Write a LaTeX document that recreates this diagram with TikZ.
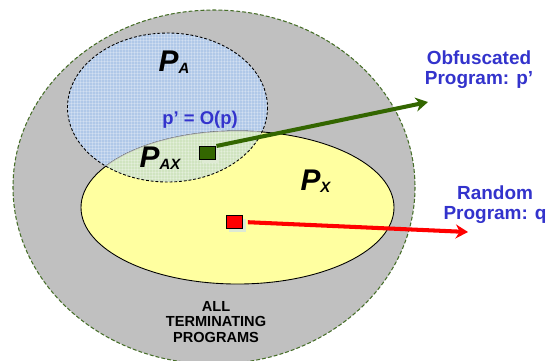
\documentclass[tikz,border=0pt]{standalone}
\usepackage{fontspec}
\setmainfont{Liberation Sans}
\usetikzlibrary{arrows.meta,shadows,patterns.meta}
\definecolor{allgray}{RGB}{192,192,192}
\definecolor{setblue}{RGB}{176,200,232}
\definecolor{setyellow}{RGB}{255,255,160}
\definecolor{overlapgreen}{RGB}{208,228,192}
\definecolor{labelblue}{RGB}{51,51,204}
\definecolor{progrn}{RGB}{51,102,0}
\definecolor{edgegreen}{RGB}{70,110,40}
\definecolor{paleshadow}{RGB}{222,234,212}
\begin{document}
\begin{tikzpicture}[x=0.02cm, y=-0.02cm, >=Stealth,
    setlabel/.style={font=\fontsize{17}{17}\selectfont\bfseries\itshape, inner sep=0pt},
    bluetext/.style={text=labelblue, font=\fontsize{10.8}{11.5}\selectfont\bfseries, align=center},
    prog/.style={draw=black, line width=0.6pt, minimum width=9.6pt, minimum height=7.4pt, inner sep=0pt,
        drop shadow={shadow xshift=1.8pt, shadow yshift=-2.2pt, fill=paleshadow, opacity=1}},
    progarrow/.style={line width=2.3pt, -{Stealth[length=7pt, width=8pt]}},
    gridfill/.style={pattern={Lines[distance=1.7pt, angle=#1, line width=0.25pt]}, pattern color=white, opacity=0.25}]
    \clip (0,0) rectangle (553,360);
    % Sets
    \fill[allgray] (214,187) ellipse [x radius=201, y radius=177];
    \draw[edgegreen, line width=0.6pt, dash pattern=on 2.2pt off 1.2pt] (214,187) ellipse [x radius=201, y radius=177];
    \fill[setblue] (167.5,107.5) ellipse [x radius=100, y radius=74.5];
    \foreach \a in {0,90} {
            \fill[gridfill=\a] (167.5,107.5) ellipse [x radius=100, y radius=74.5];
        }
    \filldraw[fill=setyellow, draw=black, line width=0.5pt] (237.5,207.5) ellipse [x radius=156.5, y radius=76.5];
    % Overlap
    \begin{scope}
        \clip (167.5,107.5) ellipse [x radius=100, y radius=74.5];
        \fill[overlapgreen] (237.5,207.5) ellipse [x radius=156.5, y radius=76.5];
        \foreach \a in {0,90} {
                \fill[gridfill=\a] (237.5,207.5) ellipse [x radius=156.5, y radius=76.5];
            }
        \draw[black!30, line width=0.4pt] (237.5,207.5) ellipse [x radius=156.5, y radius=76.5];
    \end{scope}
    \draw[black, line width=0.5pt, dash pattern=on 1.6pt off 1.1pt] (167.5,107.5) ellipse [x radius=100, y radius=74.5];
    % Labels
    \node[setlabel] (pa) at (174,62) {P\raisebox{-1pt}{\fontsize{8.5}{8.5}\selectfont A}};
    \node[setlabel] (pax) at (160,158) {P\raisebox{-1pt}{\fontsize{8.5}{8.5}\selectfont AX}};
    \node[setlabel] (px) at (315.5,181) {P\raisebox{-1pt}{\fontsize{8.5}{8.5}\selectfont X}};
    \node[text=labelblue, font=\fontsize{10.5}{10.5}\selectfont\bfseries] (mapping) at (200,120) {p’ = O(p)};
    \node[font=\fontsize{8.3}{8.8}\selectfont\bfseries, align=center] (alllbl) at (216,322) {ALL\\TERMINATING\\PROGRAMS};
    \node[bluetext] (obflbl) at (479,70) {Obfuscated\\Program: p’};
    \node[bluetext] (rndlbl) at (495,205) {Random\\Program: q};
    % Programs
    \node[prog, fill=progrn] (obfsq) at (207.5,153) {};
    \node[prog, fill=red] (rndsq) at (234.5,222) {};
    \coordinate (obfend) at (428,102);
    \coordinate (rndend) at (468,232);
    \draw[progarrow, progrn] (obfsq.north east) -- (obfend);
    \draw[progarrow, red, shorten <=2.5pt] (rndsq.east) -- (rndend);
\end{tikzpicture}
\end{document}
